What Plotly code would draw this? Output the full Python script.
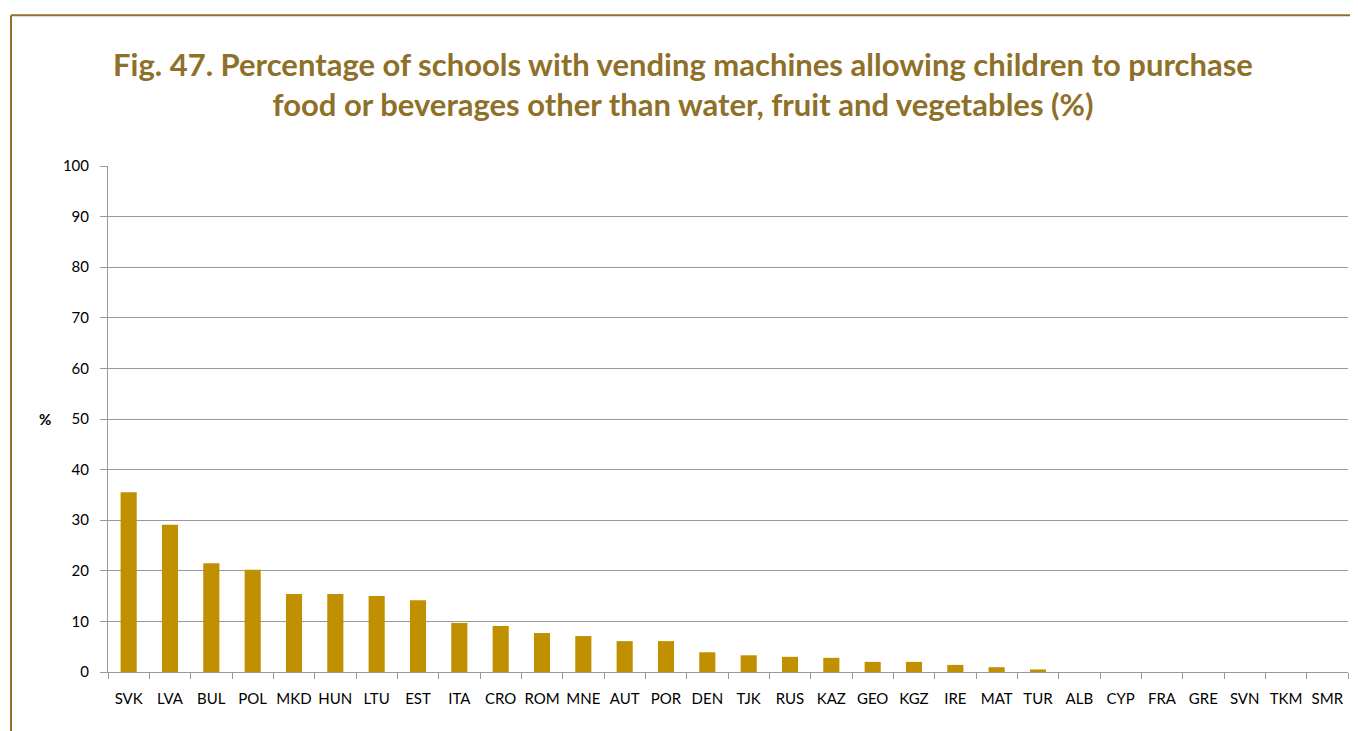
import plotly.graph_objects as go

countries = ["SVK", "LVA", "BUL", "POL", "MKD", "HUN", "LTU", "EST", "ITA", "CRO",
             "ROM", "MNE", "AUT", "POR", "DEN", "TJK", "RUS", "KAZ", "GEO", "KGZ",
             "IRE", "MAT", "TUR", "ALB", "CYP", "FRA", "GRE", "SVN", "TKM", "SMR"]
percent = [35.5, 29.1, 21.5, 20.2, 15.4, 15.4, 15.0, 14.2, 9.7, 9.1,
           7.7, 7.1, 6.1, 6.1, 3.9, 3.3, 3.0, 2.8, 2.0, 2.0,
           1.4, 0.95, 0.5, 0, 0, 0, 0, 0, 0, 0]
y_ticks = list(range(0, 101, 10))

title_color = "#8E7029"
bar_color = "#C09000"
grid_color = "#999999"

fig = go.Figure(go.Bar(x=countries, y=percent, marker_color=bar_color,
                       marker_line_width=0))

fig.update_layout(
    width=1350, height=723,
    margin=dict(l=100, r=10, t=158, b=59),
    paper_bgcolor="white", plot_bgcolor="white",
    bargap=0.61,
    showlegend=False,
    font=dict(family="Lato, 'Open Sans', sans-serif", color="black", size=15),
    title=dict(
        text="Fig. 47. Percentage of schools with vending machines allowing children to purchase<br>"
             "food or beverages other than water, fruit and vegetables (%)",
        x=0.5, xanchor="center", y=0.906, yanchor="top",
        font=dict(family="Lato, sans-serif", size=31, color=title_color, weight="bold"),
    ),
)
fig.update_xaxes(
    showline=True, linecolor=grid_color, linewidth=1,
    ticks="outside", tickson="boundaries", ticklen=6, tickcolor=grid_color,
    tickangle=0, tickfont=dict(size=15), ticklabelstandoff=13,
    showgrid=False, automargin=False,
)
fig.update_yaxes(
    range=[0, 100], tickvals=y_ticks,
    showline=True, linecolor=grid_color, linewidth=1,
    showgrid=True, gridcolor=grid_color, gridwidth=1,
    ticks="outside", ticklen=7, tickcolor=grid_color,
    tickfont=dict(size=15), ticklabelstandoff=8, zeroline=False, automargin=False,
)
fig.add_annotation(text="<b>%</b>", xref="paper", yref="paper", x=-0.0575, y=0.5,
                   showarrow=False, font=dict(size=15))

# frame around the figure (top and left edges visible)
frame = dict(color=title_color, width=2)
fig.add_shape(type="line", xref="paper", yref="paper", x0=-0.0782, x1=1.02,
              y0=1.298, y1=1.298, line=frame)
fig.add_shape(type="line", xref="paper", yref="paper", x0=-0.0782, x1=-0.0782,
              y0=1.298, y1=-0.2, line=frame)

fig.write_html("out.html")
